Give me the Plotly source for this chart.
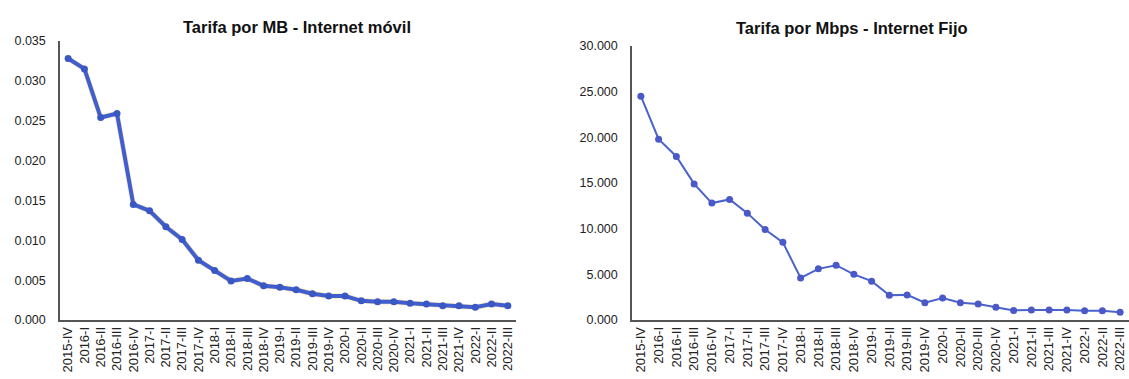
import plotly.graph_objects as go

periodos = [
    "2015-IV", "2016-I", "2016-II", "2016-III", "2016-IV", "2017-I", "2017-II",
    "2017-III", "2017-IV", "2018-I", "2018-II", "2018-III", "2018-IV", "2019-I",
    "2019-II", "2019-III", "2019-IV", "2020-I", "2020-II", "2020-III", "2020-IV",
    "2021-I", "2021-II", "2021-III", "2021-IV", "2022-I", "2022-II", "2022-III",
]

tarifa_mb_movil = [
    0.0328, 0.0315, 0.0254, 0.0259, 0.0145, 0.0137, 0.0117,
    0.0101, 0.0075, 0.0062, 0.0049, 0.0052, 0.0043, 0.0041,
    0.0038, 0.0033, 0.0030, 0.0030, 0.0024, 0.0023, 0.0023,
    0.0021, 0.0020, 0.0018, 0.0018, 0.0016, 0.0020, 0.0018,
]

tarifa_mbps_fijo = [
    24.5, 19.8, 17.9, 14.9, 12.8, 13.2, 11.7,
    9.9, 8.5, 4.6, 5.6, 6.0, 5.0, 4.25,
    2.7, 2.75, 1.9, 2.4, 1.9, 1.75, 1.4,
    1.05, 1.1, 1.1, 1.1, 1.0, 1.0, 0.85,
]

W, H = 1129, 379
FONT = "Liberation Sans, Arial, sans-serif"

fig = go.Figure()

# Móvil: thick line with a faint warm underlay
fig.add_trace(go.Scatter(
    x=periodos, y=tarifa_mb_movil, mode="lines",
    line=dict(color="rgba(245,200,110,0.45)", width=5.5),
    xaxis="x", yaxis="y", showlegend=False, hoverinfo="skip",
))
fig.add_trace(go.Scatter(
    x=periodos, y=tarifa_mb_movil, mode="lines+markers",
    line=dict(color="#3F5ECF", width=4),
    marker=dict(color="#3A58C4", size=7, symbol="circle"),
    xaxis="x", yaxis="y", showlegend=False,
))

# Fijo: thinner line with markers
fig.add_trace(go.Scatter(
    x=periodos, y=tarifa_mbps_fijo, mode="lines+markers",
    line=dict(color="#4A62CC", width=2),
    marker=dict(color="#4A58C8", size=7, symbol="circle"),
    xaxis="x2", yaxis="y2", showlegend=False,
))

def px_x(a, b):
    return [a / W, b / W]

def px_y(top, bottom):
    return [(H - bottom) / H, (H - top) / H]

axis_common = dict(
    showgrid=False, zeroline=False, showline=True, automargin=False,
    linecolor="#555555", linewidth=1.5, ticks="",
)
yaxis_common = dict(
    **axis_common, ticklabelstandoff=10, tickformat=".3f",
    tickfont=dict(family=FONT, size=12.5, color="#222222"),
)
xaxis_common = dict(
    **axis_common, type="category", tickangle=-90,
    tickmode="linear", tick0=0, dtick=1,
    range=[-0.5, len(periodos) - 0.5],
    tickfont=dict(family=FONT, size=13, color="#222222"),
)

fig.update_layout(
    width=W, height=H,
    margin=dict(l=0, r=0, t=0, b=0, autoexpand=False),
    paper_bgcolor="white", plot_bgcolor="white",
    font=dict(family=FONT),
    xaxis=dict(domain=px_x(60, 516), anchor="y", **xaxis_common),
    yaxis=dict(domain=px_y(41, 320), anchor="x", range=[0, 0.035],
               dtick=0.005, **yaxis_common),
    xaxis2=dict(domain=px_x(632, 1129), anchor="y2", **xaxis_common),
    yaxis2=dict(domain=px_y(46, 320), anchor="x2", range=[0, 30],
                dtick=5, **yaxis_common),
    annotations=[
        dict(text="<b>Tarifa por MB - Internet móvil</b>", x=297 / W, y=(H - 27) / H,
             xref="paper", yref="paper", xanchor="center", yanchor="middle",
             showarrow=False, font=dict(family=FONT, size=16.5, color="#111111")),
        dict(text="<b>Tarifa por Mbps - Internet Fijo</b>", x=852 / W, y=(H - 28) / H,
             xref="paper", yref="paper", xanchor="center", yanchor="middle",
             showarrow=False, font=dict(family=FONT, size=16.5, color="#111111")),
    ],
)

fig.write_html("out.html", post_script="document.body.style.margin='0px';")
